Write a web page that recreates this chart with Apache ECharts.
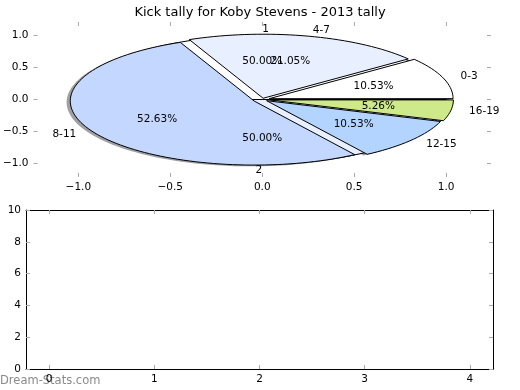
<!DOCTYPE html>
<html><head><meta charset="utf-8">
<script src="https://cdn.jsdelivr.net/npm/echarts@6/dist/echarts.min.js"></script>
<style>html,body{margin:0;padding:0;background:#fff}#c{width:520px;height:390px}</style>
</head><body><div id="c"></div>
<script>
const chartTitle = 'Kick tally for Koby Stevens - 2013 tally';
const tallyLabels = ['0-3', '4-7', '8-11', '12-15', '16-19'];
const tallyCounts = [2, 4, 10, 2, 1];
const splitLabels = ['1', '2'];
const splitCounts = [1, 1];
const pieTicks = [-1, -0.5, 0, 0.5, 1];
const lowerXTicks = [0, 1, 2, 3, 4];
const lowerYTicks = [0, 2, 4, 6, 8, 10];
const watermark = 'Dream-Stats.com';

const tallyColors = ['#ffffff', '#e8efff', '#c4d8ff', '#b3d4ff', '#cee98a'];
const splitColors = ['#ffffff', '#e8efff'];
const tallyExplode = [0.04, 0.02, 0.05, 0.03, 0.04];
const splitExplode = [0, 0];
const FONT = 'DejaVu Sans';
const TICK = '#aaaaaa';

function fmt1(v) { return (v < 0 ? '\u2212' : '') + Math.abs(v).toFixed(1); }

function wedges(counts, labels, explode) {
  const total = counts.reduce((a, b) => a + b, 0);
  let t = 0; const out = [];
  counts.forEach((c, i) => {
    const t1 = t, t2 = t + 360 * c / total; t = t2;
    const mid = (t1 + t2) / 2 * Math.PI / 180;
    out.push({ t1, t2, mid, cx: explode[i] * Math.cos(mid), cy: explode[i] * Math.sin(mid),
      frac: c / total, label: labels[i], idx: i });
  });
  return out;
}

function shadowColor(hex) {
  const r = parseInt(hex.substr(1, 2), 16), g = parseInt(hex.substr(3, 2), 16), b = parseInt(hex.substr(5, 2), 16);
  return 'rgba(' + Math.round(0.3 * r) + ',' + Math.round(0.3 * g) + ',' + Math.round(0.3 * b) + ',0.5)';
}

function renderPies(params, api) {
  const children = [];
  const pies = [
    { w: wedges(splitCounts, splitLabels, splitExplode), colors: splitColors },
    { w: wedges(tallyCounts, tallyLabels, tallyExplode), colors: tallyColors }
  ];
  function poly(w, dx, dy) {
    const pts = [api.coord([w.cx + dx, w.cy + dy])];
    const n = Math.max(4, Math.ceil((w.t2 - w.t1) / 2));
    for (let k = 0; k <= n; k++) {
      const a = (w.t1 + (w.t2 - w.t1) * k / n) * Math.PI / 180;
      pts.push(api.coord([w.cx + dx + Math.cos(a), w.cy + dy + Math.sin(a)]));
    }
    return pts;
  }
  pies.forEach(p => p.w.forEach(w => {
    children.push({ type: 'polygon', shape: { points: poly(w, -0.02, -0.02) },
      style: { fill: shadowColor(p.colors[w.idx]), stroke: null } });
  }));
  pies.forEach(p => p.w.forEach(w => {
    children.push({ type: 'polygon', shape: { points: poly(w, 0, 0) },
      style: { fill: p.colors[w.idx], stroke: '#000', lineWidth: 1 } });
  }));
  pies.forEach(p => p.w.forEach(w => {
    const c = Math.cos(w.mid), s = Math.sin(w.mid);
    const lp = api.coord([w.cx + 1.1 * c, w.cy + 1.1 * s]);
    children.push({ type: 'text', style: { text: w.label, x: lp[0], y: lp[1],
      align: c > 0 ? 'left' : 'right', verticalAlign: 'middle', fontSize: 10.5, fontFamily: FONT, fill: '#000' } });
    const pp = api.coord([w.cx + 0.6 * c, w.cy + 0.6 * s]);
    children.push({ type: 'text', style: { text: (w.frac * 100).toFixed(2) + '%', x: pp[0], y: pp[1],
      align: 'center', verticalAlign: 'middle', fontSize: 10.5, fontFamily: FONT, fill: '#000' } });
  }));
  return { type: 'group', children };
}

function axisX(grid, pos, min, max, ticks, labels, line, fmt) {
  return { gridIndex: grid, type: 'value', position: pos, min, max,
    axisLine: { show: line, onZero: false, lineStyle: { color: '#000', width: 1 } },
    splitLine: { show: false },
    axisTick: { show: true, inside: true, length: 4, customValues: ticks, lineStyle: { color: TICK } },
    axisLabel: { show: labels, customValues: ticks, formatter: fmt, margin: 5, color: '#000', fontSize: 10.5, fontFamily: FONT } };
}

const chart = echarts.init(document.getElementById('c'), null, { renderer: 'canvas' });
chart.setOption({
  animation: false,
  backgroundColor: '#fff',
  title: { text: chartTitle, left: 'center', top: 1,
    textStyle: { fontSize: 13, fontWeight: 'normal', fontFamily: FONT, color: '#000' } },
  grid: [
    { left: 27, top: 22, width: 464, height: 155 },
    { left: 26, top: 210, width: 467, height: 159 }
  ],
  xAxis: [
    axisX(0, 'bottom', -1.244, 1.244, pieTicks, true, false, fmt1),
    axisX(0, 'top', -1.244, 1.244, pieTicks, false, false, fmt1),
    axisX(1, 'bottom', -0.22, 4.22, lowerXTicks, true, true, v => String(v)),
    axisX(1, 'top', -0.22, 4.22, lowerXTicks, false, true, v => String(v))
  ],
  yAxis: [
    axisX(0, 'left', -1.21, 1.21, pieTicks, true, false, fmt1),
    axisX(0, 'right', -1.21, 1.21, pieTicks, false, false, fmt1),
    axisX(1, 'left', 0, 10, lowerYTicks, true, true, v => String(v)),
    axisX(1, 'right', 0, 10, lowerYTicks, false, true, v => String(v))
  ],
  graphic: [
    { type: 'text', left: 0, top: 375, z: 0,
      style: { text: watermark, fontSize: 11.5, fontFamily: FONT, fill: '#8a8a8a' } }
  ],
  series: [
    { type: 'custom', xAxisIndex: 0, yAxisIndex: 0, data: [[0, 0]], clip: false, renderItem: renderPies, silent: true },
    { type: 'line', xAxisIndex: 2, yAxisIndex: 2, data: [] }
  ]
});
</script>
</body></html>
